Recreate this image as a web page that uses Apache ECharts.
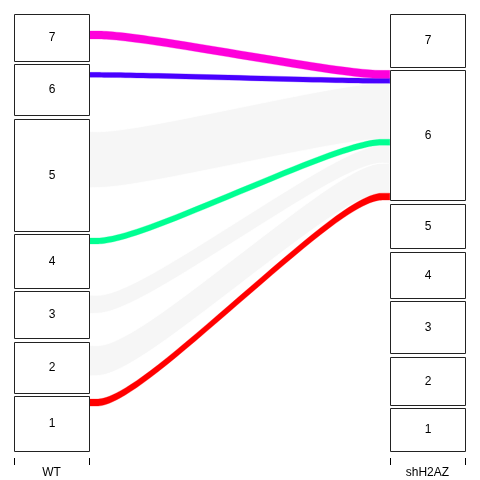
<!DOCTYPE html>
<html><head><meta charset="utf-8">
<script src="https://cdn.jsdelivr.net/npm/echarts@6/dist/echarts.min.js"></script>
<style>html,body{margin:0;padding:0;background:#fff}#c{width:480px;height:480px}</style>
</head><body><div id="c"></div>
<script>
// Axis (variable) names and category levels
const axisNames = ['WT', 'shH2AZ'];
const categories = ['1', '2', '3', '4', '5', '6', '7'];

// Flow sizes: one array per WT category, entries = shH2AZ categories 1..7
const flowsFromWT1 = [26, 10, 5, 2, 2, 7, 3];
const flowsFromWT2 = [2, 10, 3, 1, 1, 30, 4];
const flowsFromWT3 = [2, 6, 12, 3, 2, 18, 4];
const flowsFromWT4 = [4, 8, 12, 15, 5, 6, 4];
const flowsFromWT5 = [4, 7, 10, 10, 12, 56, 13];
const flowsFromWT6 = [3, 4, 6, 10, 15, 5, 8];
const flowsFromWT7 = [2, 3, 4, 5, 8, 8, 17];

// Only flows ending in this shH2AZ category are drawn; others are hidden
const shownTarget = '6';
// Flow colours by WT category
const flowColors = ['#FF0000', '#F6F6F6', '#F6F6F6', '#00FF92', '#F6F6F6', '#4900FF', '#FF00DB'];
const highlighted = ['1', '4', '6', '7'];

const M = [flowsFromWT1, flowsFromWT2, flowsFromWT3, flowsFromWT4, flowsFromWT5, flowsFromWT6, flowsFromWT7];
const n = categories.length;
const total = M.reduce((s, r) => s + r.reduce((a, b) => a + b, 0), 0);
const gapWidth = 0.05;
const gap = gapWidth * total / (n - 1);
const cw = 0.1, xw = 0.1;

const leftSizes = M.map(r => r.reduce((a, b) => a + b, 0));
const rightSizes = categories.map((_, j) => M.reduce((s, r) => s + r[j], 0));
function bottoms(sizes) {
  const out = []; let acc = 0;
  sizes.forEach((s, i) => { out.push(acc); acc += s + gap; });
  return out;
}
const leftBottom = bottoms(leftSizes);
const rightBottom = bottoms(rightSizes);
const boxBottoms = [leftBottom, rightBottom];
const boxSizes = [leftSizes, rightSizes];

function flowEnds(i, j) {
  let yl = leftBottom[i]; for (let k = 0; k < j; k++) yl += M[i][k];
  let yr = rightBottom[j]; for (let k = 0; k < i; k++) yr += M[k][j];
  return { l0: yl, l1: yl + M[i][j], r0: yr, r1: yr + M[i][j] };
}

function bspline(ctrl) {
  const P = [ctrl[0], ctrl[0], ...ctrl, ctrl[ctrl.length - 1], ctrl[ctrl.length - 1]];
  const out = [];
  const steps = 16;
  for (let s = 0; s + 3 < P.length; s++) {
    for (let k = 0; k <= steps; k++) {
      if (s > 0 && k === 0) continue;
      const t = k / steps;
      const b0 = (1 - t) * (1 - t) * (1 - t) / 6;
      const b1 = (3 * t * t * t - 6 * t * t + 4) / 6;
      const b2 = (-3 * t * t * t + 3 * t * t + 3 * t + 1) / 6;
      const b3 = t * t * t / 6;
      out.push([
        b0 * P[s][0] + b1 * P[s + 1][0] + b2 * P[s + 2][0] + b3 * P[s + 3][0],
        b0 * P[s][1] + b1 * P[s + 1][1] + b2 * P[s + 2][1] + b3 * P[s + 3][1]
      ]);
    }
  }
  return out;
}

// flow data: [wtIndex, shIndex]
const tgt = categories.indexOf(shownTarget);
const flowData = [];
categories.forEach((c, i) => { if (!highlighted.includes(c) && M[i][tgt] > 0) flowData.push([i, tgt]); });
categories.forEach((c, i) => { if (highlighted.includes(c) && M[i][tgt] > 0) flowData.push([i, tgt]); });

const boxData = [];
[0, 1].forEach(a => categories.forEach((c, i) => boxData.push([a, i])));

const x0 = 1 + cw, x1 = 2 - cw;
const chart = echarts.init(document.getElementById('c'), null, { renderer: 'canvas' });
chart.setOption({
  animation: false,
  backgroundColor: '#fff',
  grid: { left: 14, right: 15, top: 14, bottom: 29, containLabel: false, outerBoundsMode: 'none' },
  xAxis: {
    type: 'value', min: 1 - cw, max: 2 + cw, offset: 7, position: 'bottom',
    axisLine: { show: true, onZero: false, lineStyle: { color: '#fff', width: 1 } }, splitLine: { show: false },
    axisTick: { show: true, inside: false, customValues: [1 - cw, 1 + cw, 2 - cw, 2 + cw], length: 7, lineStyle: { color: '#000', width: 1 } },
    axisLabel: { customValues: [1, 2], formatter: v => axisNames[Math.round(v) - 1], color: '#000', fontSize: 12, fontFamily: 'Liberation Sans, Arial, sans-serif', margin: 9 }
  },
  yAxis: { type: 'value', min: 0, max: total + gap * (n - 1), show: false },
  series: [
    {
      type: 'custom', data: flowData, silent: true,
      renderItem: (params, api) => {
        const i = api.value(0), j = api.value(1);
        const e = flowEnds(i, j);
        const top = bspline([[x0, e.l1], [x0 + xw, e.l1], [x1 - xw, e.r1], [x1, e.r1]]);
        const bot = bspline([[x0, e.l0], [x0 + xw, e.l0], [x1 - xw, e.r0], [x1, e.r0]]).reverse();
        const pts = top.concat(bot).map(p => api.coord(p));
        const hi = highlighted.includes(categories[i]);
        return { type: 'polygon', shape: { points: pts }, style: hi ? { fill: flowColors[i], stroke: flowColors[i], lineWidth: 0.3 } : { fill: flowColors[i], stroke: '#fff', lineWidth: 0.8 } };
      }
    },
    {
      type: 'custom', data: boxData, silent: true,
      renderItem: (params, api) => {
        const a = api.value(0), i = api.value(1);
        const xc = a + 1;
        const yb = boxBottoms[a][i], yt = yb + boxSizes[a][i];
        const p0 = api.coord([xc - cw, yt]), p1 = api.coord([xc + cw, yb]);
        const L = Math.round(p0[0]) + 0.5, T = Math.round(p0[1]) + 0.5;
        const R = Math.round(p1[0]) + 0.5, B = Math.round(p1[1]) + 0.5;
        return {
          type: 'group', children: [
            { type: 'rect', shape: { x: L, y: T, width: R - L, height: B - T }, style: { fill: '#fff', stroke: '#222', lineWidth: 1 } },
            { type: 'text', style: { text: categories[i], x: (L + R) / 2, y: (T + B) / 2, align: 'center', verticalAlign: 'middle', fontSize: 12, fontFamily: 'Liberation Sans, Arial, sans-serif', fill: '#000' } }
          ]
        };
      }
    }
  ]
});
</script></body></html>
